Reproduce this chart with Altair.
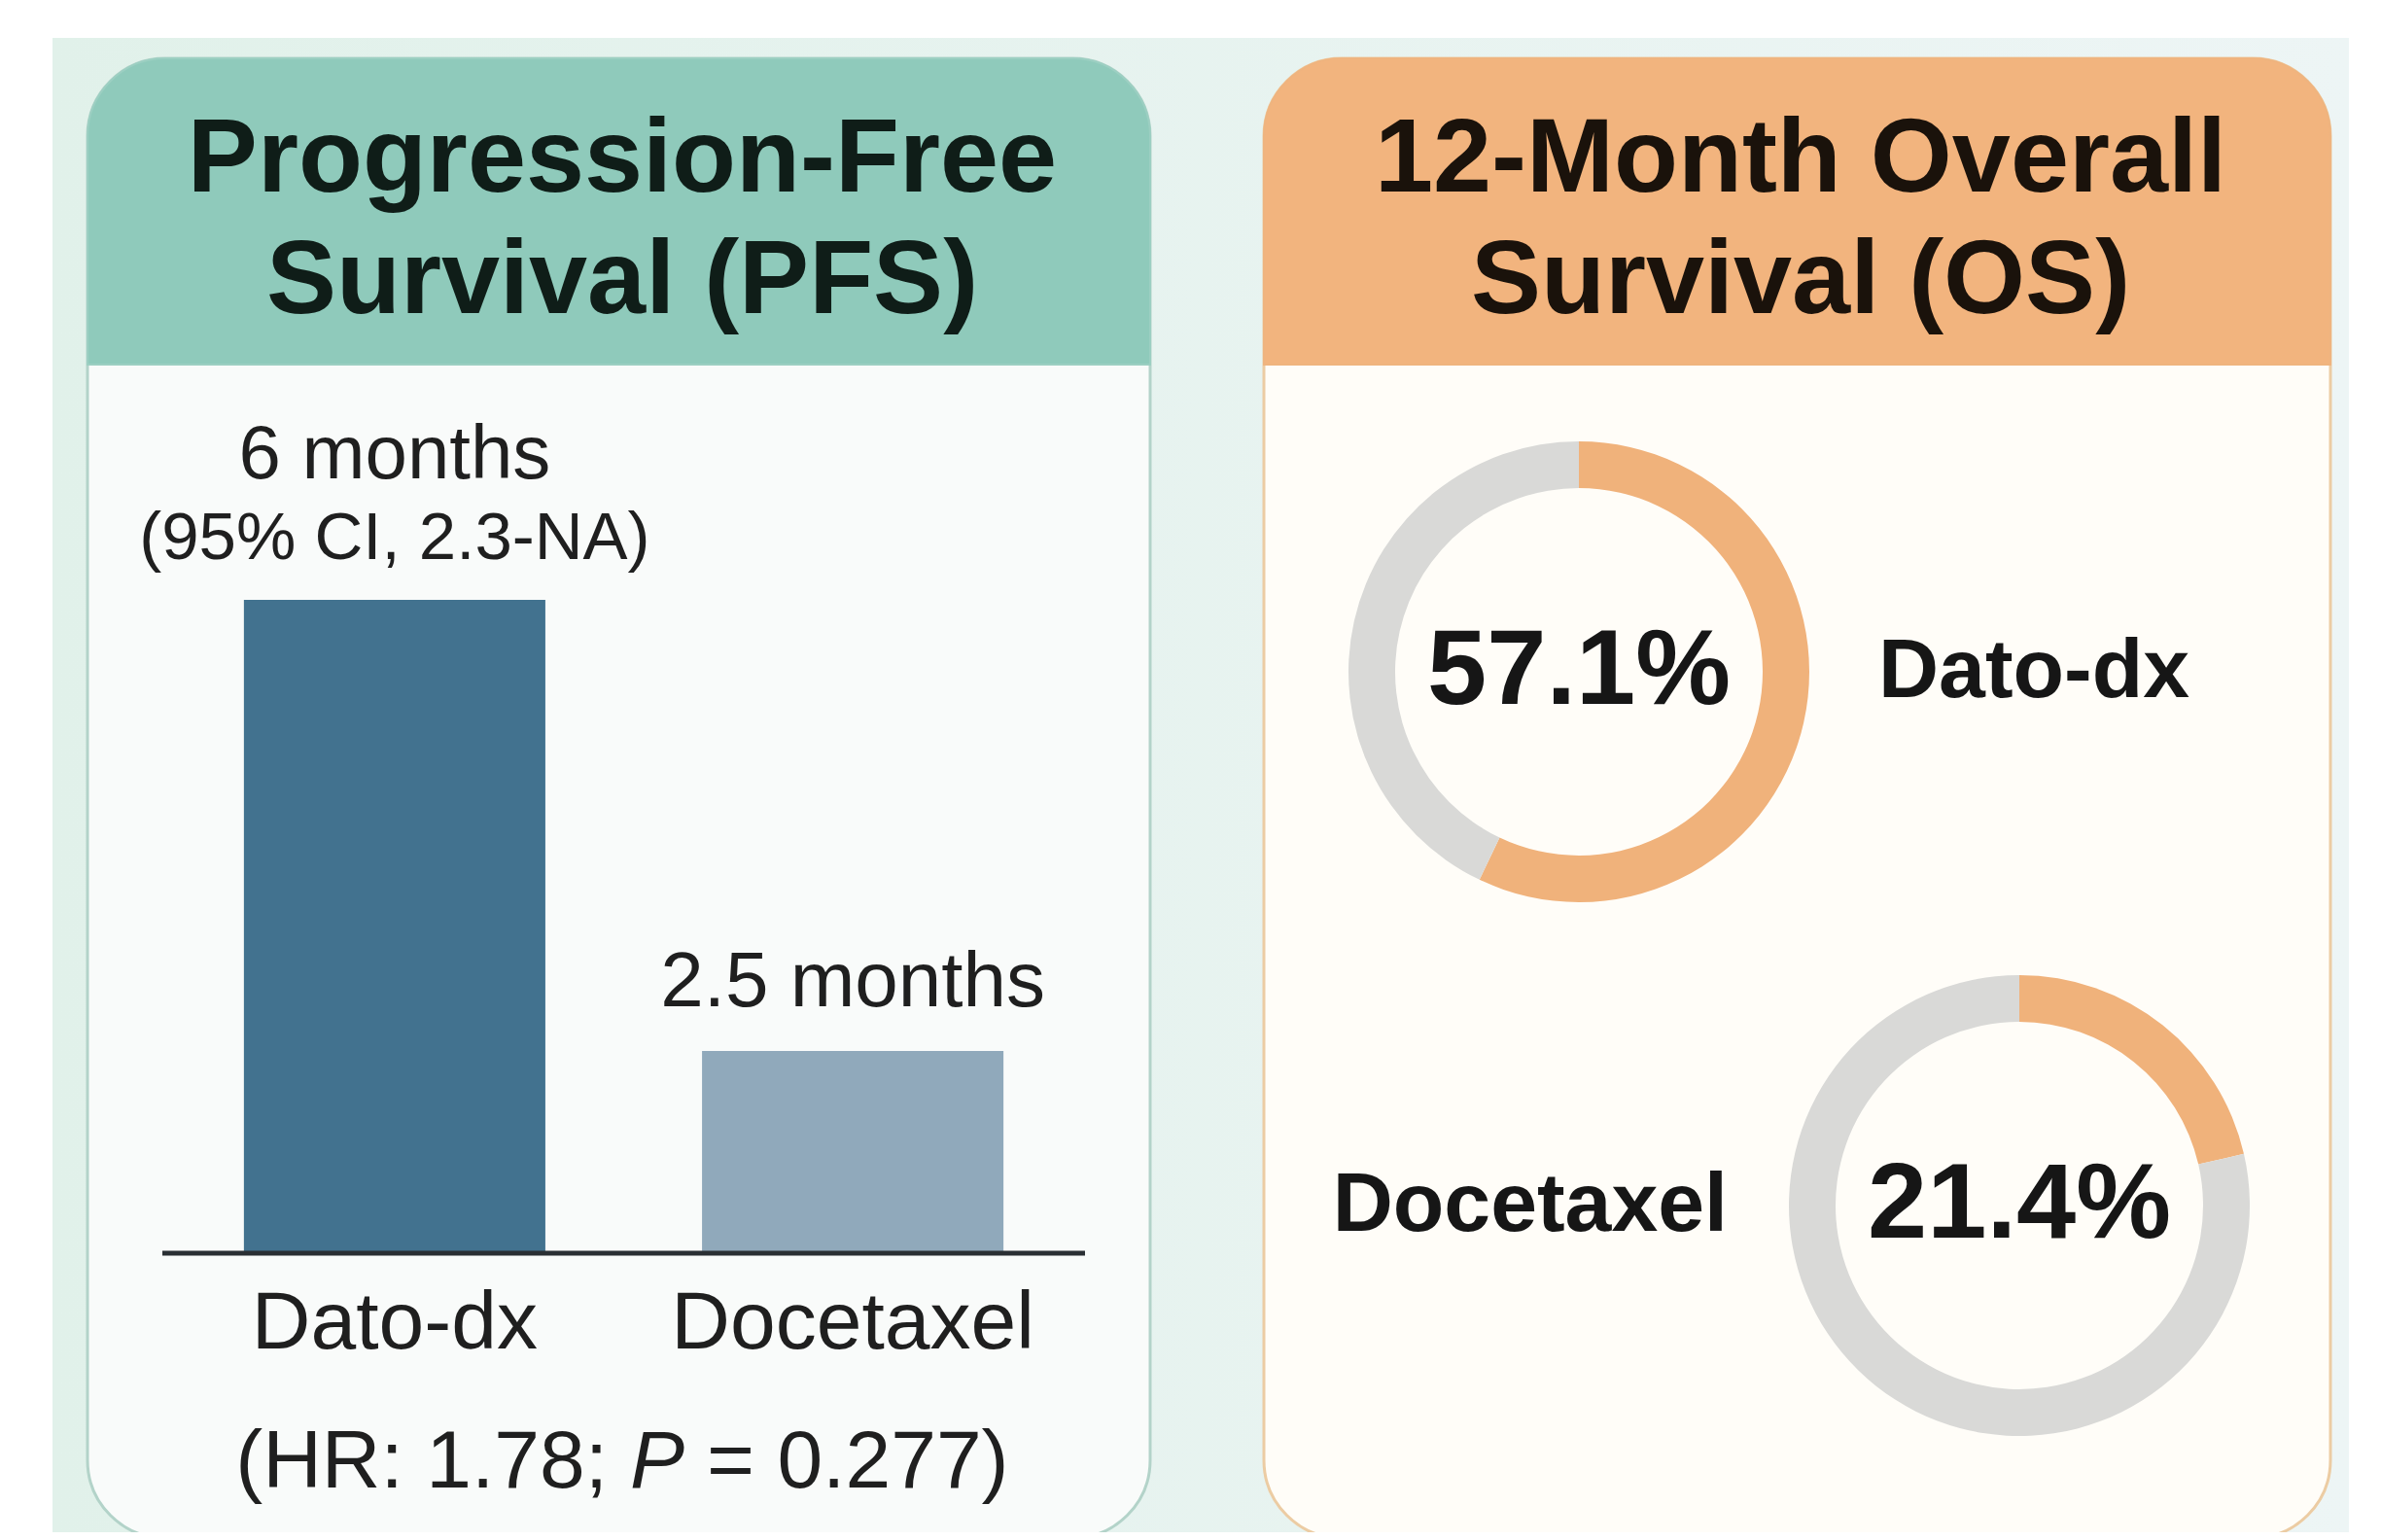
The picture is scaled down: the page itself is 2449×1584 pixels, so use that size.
import altair as alt
import pandas as pd

W, H = 2433, 1568
FONT = "Liberation Sans"

# ---------------- data ----------------
pfs_arms = ["Dato-dx", "Docetaxel"]
pfs_months = [6.0, 2.5]
pfs_value_labels = ["6 months", "2.5 months"]
pfs_ci_labels = ["(95% CI, 2.3-NA)", ""]
pfs_colors = ["#42728f", "#90a9bb"]
pfs_floor = 0.93

os_arms = ["Dato-dx", "Docetaxel"]
os_rates = [57.1, 21.4]
os_labels = ["57.1%", "21.4%"]
os_segments = ["alive", "rest"]
os_colors = ["#f0b27b", "#d9d9d7"]

left_title = ["Progression-Free", "Survival (PFS)"]
right_title = ["12-Month Overall", "Survival (OS)"]
hr_parts = ["(HR: 1.78;", "P", "= 0.277)"]

pfs_df = pd.DataFrame({"arm": pfs_arms, "months": pfs_months,
                       "value_label": pfs_value_labels, "ci_label": pfs_ci_labels})
rows = []
for arm, r in zip(os_arms, os_rates):
    rows.append({"arm": arm, "seg": os_segments[0], "start": 0.0, "end": r})
    rows.append({"arm": arm, "seg": os_segments[1], "start": r, "end": 100.0})
os_df = pd.DataFrame(rows)
os_lab_df = pd.DataFrame({"arm": os_arms, "label": os_labels})

dummy = pd.DataFrame({"a": [0]})

def rect(x, x2, y, y2, **kw):
    return alt.Chart(dummy).mark_rect(**kw).encode(
        x=alt.value(x), x2=alt.value(x2), y=alt.value(y), y2=alt.value(y2))

def label(text, x, y, **kw):
    return alt.Chart(dummy).mark_text(text=text, font=FONT, **kw).encode(
        x=alt.value(x), y=alt.value(y))

# ---------------- background & panels ----------------
bg = rect(46, 2408, 31, 1600, color=alt.LinearGradient(
    gradient="linear", x1=0, y1=0, x2=1, y2=0,
    stops=[alt.GradientStop(offset=0, color="#e1f1ea"),
           alt.GradientStop(offset=1, color="#edf5f5")]))

lp_body = rect(82, 1175, 52, 1574, color="#f9fbfa", cornerRadius=80,
               stroke="#b3d3c9", strokeWidth=3)
lp_head = rect(82, 1175, 52, 367, color="#8fcabb", cornerRadiusTopLeft=80,
               cornerRadiusTopRight=80, stroke="#9ccfc2", strokeWidth=2)
rp_body = rect(1292, 2389, 52, 1574, color="#fffdf8", cornerRadius=80,
               stroke="#eccca3", strokeWidth=3)
rp_head = rect(1292, 2389, 52, 367, color="#f2b47e", cornerRadiusTopLeft=80,
               cornerRadiusTopRight=80, stroke="#efb47f", strokeWidth=2)

t_left = label(left_title, 632, 189, fontSize=108, fontWeight="bold",
               lineHeight=125, align="center", baseline="alphabetic", color="#0f1d18")
t_right = label(right_title, 1844, 189, fontSize=108, fontWeight="bold",
                lineHeight=125, align="center", baseline="alphabetic", color="#1a120b")

# ---------------- PFS bar chart ----------------
def X():
    return alt.X("arm:N", axis=None, scale=alt.Scale(
        type="band", domain=pfs_arms, range=[159, 1108],
        paddingInner=0.342, paddingOuter=0.178))

def Y(field="months:Q"):
    return alt.Y(field, axis=None, scale=alt.Scale(
        type="linear", domain=[pfs_floor, 6.0], range=[1281, 609],
        zero=False, nice=False))

base = alt.Chart(pfs_df)
bars = base.mark_bar().encode(
    x=X(), y=Y(), y2=alt.datum(pfs_floor),
    color=alt.Color("arm:N", scale=alt.Scale(domain=pfs_arms, range=pfs_colors), legend=None))
axis_line = alt.Chart(dummy).mark_rule(color="#2a2f33", strokeWidth=5).encode(
    x=alt.value(159), x2=alt.value(1108), y=alt.value(1281))
lab_main1 = base.transform_filter("datum.ci_label != ''").mark_text(
    font=FONT, fontSize=78, dy=-148, baseline="middle", color="#1f1f1f").encode(
    x=X(), y=Y(), text="value_label:N")
lab_ci = base.transform_filter("datum.ci_label != ''").mark_text(
    font=FONT, fontSize=69, dy=-63, baseline="middle", color="#1f1f1f").encode(
    x=X(), y=Y(), text="ci_label:N")
lab_main2 = base.transform_filter("datum.ci_label == ''").mark_text(
    font=FONT, fontSize=80, dy=-70, baseline="middle", color="#1f1f1f").encode(
    x=X(), y=Y(), text="value_label:N")
cat_labels = base.mark_text(font=FONT, fontSize=84, dy=73, baseline="middle",
                            color="#1f1f1f").encode(
    x=X(), y=alt.value(1281), text="arm:N")

hr1 = label(hr_parts[0], 617, 1522, fontSize=84, align="right", baseline="alphabetic", color="#1f1f1f")
hr2 = label(hr_parts[1], 640, 1522, fontSize=84, fontStyle="italic", align="left",
            baseline="alphabetic", color="#1f1f1f")
hr3 = label(hr_parts[2], 719, 1522, fontSize=84, align="left", baseline="alphabetic", color="#1f1f1f")

# ---------------- OS donuts ----------------
def OX():
    return alt.X("arm:N", axis=None, scale=alt.Scale(
        type="point", domain=os_arms, range=[1616, 2069], padding=0))

def OY():
    return alt.Y("arm:N", axis=None, scale=alt.Scale(
        type="point", domain=os_arms, range=[683, 1232], padding=0))

arcs = alt.Chart(os_df).mark_arc(innerRadius=189, outerRadius=237).encode(
    x=OX(), y=OY(),
    theta=alt.Theta("start:Q", scale=alt.Scale(domain=[0, 100], range=[0, 6.283185307])),
    theta2="end:Q",
    color=alt.Color("seg:N", scale=alt.Scale(domain=os_segments, range=os_colors), legend=None))
pct = alt.Chart(os_lab_df).mark_text(font=FONT, fontSize=110, fontWeight="bold",
                                     baseline="middle", color="#161616").encode(
    x=OX(), y=OY(), text="label:N")
side1 = alt.Chart(os_lab_df).transform_filter(f"datum.arm == '{os_arms[0]}'").mark_text(
    font=FONT, fontSize=86, fontWeight="bold", align="left", dx=308, baseline="middle",
    color="#161616").encode(x=OX(), y=OY(), text="arm:N")
side2 = alt.Chart(os_lab_df).transform_filter(f"datum.arm == '{os_arms[1]}'").mark_text(
    font=FONT, fontSize=86, fontWeight="bold", align="right", dx=-300, baseline="middle",
    color="#161616").encode(x=OX(), y=OY(), text="arm:N")

chart = alt.layer(
    bg, lp_body, lp_head, rp_body, rp_head, t_left, t_right,
    bars, axis_line, lab_main1, lab_ci, lab_main2, cat_labels, hr1, hr2, hr3,
    arcs, pct, side1, side2
).resolve_scale(
    x="independent", y="independent", color="independent"
).properties(
    width=W, height=H, padding=0, autosize=alt.AutoSizeParams(type="none"),
    background="white"
).configure_view(stroke=None)

chart.save("out.html", embed_options={"renderer": "svg", "actions": False})
